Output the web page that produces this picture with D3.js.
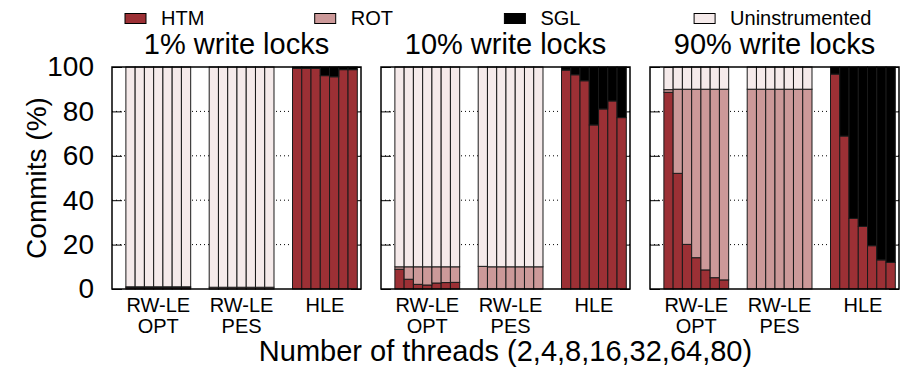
<!DOCTYPE html>
<html>
<head>
<meta charset="utf-8">
<script src="https://cdn.jsdelivr.net/npm/d3@7"></script>
<style>
  html, body { margin: 0; padding: 0; background: #fff; }
  svg { display: block; font-family: "Liberation Sans", Arial, Helvetica, sans-serif; }
</style>
</head>
<body>
<svg id="chart" width="904" height="367"></svg>
<script>
// ---------------- data ----------------
const panelTitles = ["1% write locks", "10% write locks", "90% write locks"];
const groupLabels = [["RW-LE", "OPT"], ["RW-LE", "PES"], ["HLE"]];
const threads = [2, 4, 8, 16, 32, 64, 80];
const seriesNames = ["HTM", "ROT", "SGL", "Uninstrumented"];
const yTicks = [0, 20, 40, 60, 80, 100];

// values per panel: 21 bars = 3 groups (OPT, PES, HLE) x 7 thread counts
const htmVals = [
  [0.6, 0.6, 0.6, 0.6, 0.6, 0.6, 0.6,   0, 0, 0, 0, 0, 0, 0,   99.4, 99.4, 99.4, 96.1, 95.6, 98.8, 98.8],
  [8.9, 4.4, 2.1, 1.8, 2.7, 2.9, 3.0,   0, 0, 0, 0, 0, 0, 0,   98.6, 96.5, 93.8, 73.9, 81.1, 84.7, 77.2],
  [88.6, 52.1, 20.1, 14.1, 8.6, 5.1, 4.1,   0, 0, 0, 0, 0, 0, 0,   96.8, 68.9, 31.8, 28.2, 19.5, 13.1, 12.0]
];
const rotVals = [
  [0.4, 0.4, 0.4, 0.4, 0.4, 0.4, 0.4,   0.8, 0.8, 0.8, 0.8, 0.8, 0.8, 0.8,   0, 0, 0, 0, 0, 0, 0],
  [1.1, 5.6, 7.9, 8.2, 7.3, 7.1, 7.0,   10.2, 10, 10, 10, 10, 10, 10,   0, 0, 0, 0, 0, 0, 0],
  [1.2, 37.9, 69.9, 75.9, 81.4, 84.9, 85.9,   90, 90, 90, 90, 90, 90, 90,   0, 0, 0, 0, 0, 0, 0]
];
const sglVals = [
  [0, 0, 0, 0, 0, 0, 0,   0, 0, 0, 0, 0, 0, 0,   0.6, 0.6, 0.6, 3.9, 4.4, 1.2, 1.2],
  [0, 0, 0, 0, 0, 0, 0,   0, 0, 0, 0, 0, 0, 0,   1.4, 3.5, 6.2, 26.1, 18.9, 15.3, 22.8],
  [0, 0, 0, 0, 0, 0, 0,   0, 0, 0, 0, 0, 0, 0,   3.2, 31.1, 68.2, 71.8, 80.5, 86.9, 88.0]
];
const uninstrVals = [
  [99, 99, 99, 99, 99, 99, 99,   99.2, 99.2, 99.2, 99.2, 99.2, 99.2, 99.2,   0, 0, 0, 0, 0, 0, 0],
  [90, 90, 90, 90, 90, 90, 90,   89.8, 90, 90, 90, 90, 90, 90,   0, 0, 0, 0, 0, 0, 0],
  [10, 10, 10, 10, 10, 10, 10,   10, 10, 10, 10, 10, 10, 10,   0, 0, 0, 0, 0, 0, 0]
];

const colors = { "HTM": "#9c3035", "ROT": "#cc9999", "SGL": "#000000", "Uninstrumented": "#f5eaea" };

// ---------------- layout ----------------
const svg = d3.select("#chart");
const plotTop = 67, plotBottom = 289;
const panelLeft0 = 112, panelStep = 269, panelWidth = 249;
const slotsPerPanel = 26.9;

const y = d3.scaleLinear().domain([0, 100]).range([plotBottom, plotTop]);

// legend
const legendX0 = 125, legendStep = 189.7;
seriesNames.forEach((name, k) => {
  const lx = legendX0 + k * legendStep;
  svg.append("rect")
    .attr("x", lx).attr("y", 13.5).attr("width", 21).attr("height", 10)
    .attr("fill", colors[name]).attr("stroke", "#000").attr("stroke-width", 1);
  svg.append("text")
    .attr("x", lx + 36).attr("y", 25)
    .attr("font-size", 20).attr("fill", "#000")
    .text(name);
});

panelTitles.forEach((title, p) => {
  const left = panelLeft0 + p * panelStep;
  const right = left + panelWidth;
  const x = d3.scaleLinear().domain([0, slotsPerPanel]).range([left, right]);
  const g = svg.append("g");

  // title
  g.append("text")
    .attr("x", (left + right) / 2).attr("y", 54)
    .attr("text-anchor", "middle").attr("font-size", 29)
    .text(title);

  // dotted gridlines
  g.selectAll(".grid").data(yTicks.filter(t => t > 0 && t < 100)).enter()
    .append("line")
    .attr("x1", left).attr("x2", right)
    .attr("y1", d => y(d)).attr("y2", d => y(d))
    .attr("stroke", "#000").attr("stroke-width", 1)
    .attr("stroke-dasharray", "1,3");

  // left axis ticks (inward)
  const axL = d3.axisLeft(y).tickValues(yTicks).tickSize(-10).tickPadding(18)
    .tickFormat(p === 0 ? d3.format("d") : () => "");
  const gl = g.append("g").attr("transform", `translate(${left},0)`).call(axL);
  gl.select(".domain").remove();
  gl.selectAll(".tick line").attr("stroke", "#000").attr("stroke-width", 1);
  gl.selectAll(".tick text").attr("font-size", 28).attr("fill", "#000")
    .attr("font-family", '"Liberation Sans", Arial, sans-serif');

  // right mirror ticks
  const axR = d3.axisRight(y).tickValues(yTicks).tickSize(-10).tickFormat(() => "");
  const gr = g.append("g").attr("transform", `translate(${right},0)`).call(axR);
  gr.select(".domain").remove();
  gr.selectAll(".tick line").attr("stroke", "#000").attr("stroke-width", 1);

  // stacked bars
  const rows = htmVals[p].map((v, i) => ({
    idx: i,
    "HTM": htmVals[p][i],
    "ROT": rotVals[p][i],
    "SGL": sglVals[p][i],
    "Uninstrumented": uninstrVals[p][i]
  }));
  const stacked = d3.stack().keys(seriesNames)(rows);
  const slotOf = i => 1.5 + 9 * Math.floor(i / threads.length) + (i % threads.length);

  stacked.forEach(layer => {
    g.append("g").selectAll("rect").data(layer.filter(d => d[1] - d[0] > 0)).enter()
      .append("rect")
      .attr("x", d => x(slotOf(d.data.idx)))
      .attr("width", d => x(slotOf(d.data.idx) + 1) - x(slotOf(d.data.idx)))
      .attr("y", d => y(d[1]))
      .attr("height", d => y(d[0]) - y(d[1]))
      .attr("fill", colors[layer.key])
      .attr("stroke", "#1a1a1a").attr("stroke-width", 1);
  });

  // frame
  g.append("rect")
    .attr("x", left).attr("y", plotTop)
    .attr("width", panelWidth).attr("height", plotBottom - plotTop)
    .attr("fill", "none").attr("stroke", "#000").attr("stroke-width", 1.5);

  // group labels
  groupLabels.forEach((lines, gi) => {
    const cx = (x(1.5 + 9 * gi) + x(1.5 + 9 * gi + threads.length)) / 2;
    lines.forEach((ln, li) => {
      g.append("text")
        .attr("x", cx).attr("y", 311.5 + li * 21.7)
        .attr("text-anchor", "middle").attr("font-size", 20)
        .text(ln);
    });
  });
});

// y-axis label
svg.append("text")
  .attr("transform", `translate(46,178) rotate(-90)`)
  .attr("text-anchor", "middle").attr("font-size", 28)
  .text("Commits (%)");

// x-axis label
svg.append("text")
  .attr("x", 505.5).attr("y", 361)
  .attr("text-anchor", "middle").attr("font-size", 29)
  .text("Number of threads (" + threads.join(",") + ")");
</script>
</body>
</html>
